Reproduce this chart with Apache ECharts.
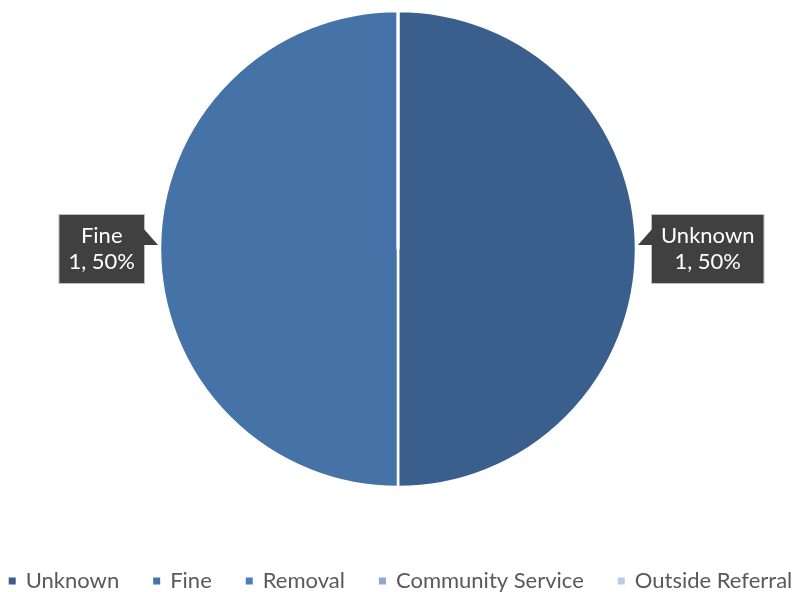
<!DOCTYPE html>
<html><head><meta charset="utf-8">
<script src="https://cdn.jsdelivr.net/npm/echarts@6/dist/echarts.min.js"></script>
<style>html,body{margin:0;padding:0;background:#fff}#c{width:799px;height:592px}</style>
</head><body><div id="c"></div>
<script>
const categories = ['Unknown', 'Fine', 'Removal', 'Community Service', 'Outside Referral'];
const values = [1, 1, 0, 0, 0];
const colors = ['#3A5F8C', '#4573A8', '#4A7EC2', '#8FA9D3', '#BDCCE5'];

const CX = 398, CY = 249, R = 238, LEN = 16;
const chart = echarts.init(document.getElementById('c'));
const font = 'Lato, "Noto Sans", sans-serif';
const pointerR = [[CX + R + LEN + 1, CY - 21], [CX + R + 2, CY - 4], [CX + R + LEN + 1, CY - 4]];
const pointerL = pointerR.map(p => [2 * CX - p[0], p[1]]);
chart.setOption({
  animation: false,
  legend: {
    top: 565,
    left: 'center',
    itemWidth: 9, itemHeight: 9, itemGap: 32,
    icon: 'rect',
    data: categories,
    textStyle: { fontFamily: font, fontSize: 22, color: '#595959', padding: [0, 0, 0, 4] }
  },
  graphic: [
    { type: 'polygon', z: 100, shape: { points: pointerR }, style: { fill: '#404040' } },
    { type: 'polygon', z: 100, shape: { points: pointerL }, style: { fill: '#404040' } }
  ],
  series: [{
    type: 'pie',
    center: [CX, CY],
    radius: R,
    startAngle: 90,
    clockwise: true,
    itemStyle: { borderColor: '#fff', borderWidth: 2.5 },
    label: {
      show: true,
      position: 'outside',
      distanceToLabelLine: 0,
      formatter: p => '{t|' + p.name + '}\n{t|' + p.value + ', ' + Math.round(p.percent) + '%}',
      rich: { t: { fontFamily: font, fontSize: 22, color: '#fff', lineHeight: 26, align: 'center' } },
      backgroundColor: '#404040', borderColor: '#BFBFBF', borderWidth: 1,
      padding: [8, 9, 8, 9]
    },
    labelLine: { show: false, length: LEN, length2: 0 },
    data: categories.map((n, i) => ({
      name: n, value: values[i],
      itemStyle: { color: colors[i] },
      label: { show: values[i] > 0 },
      labelLine: { show: false }
    }))
  }]
});
</script></body></html>
